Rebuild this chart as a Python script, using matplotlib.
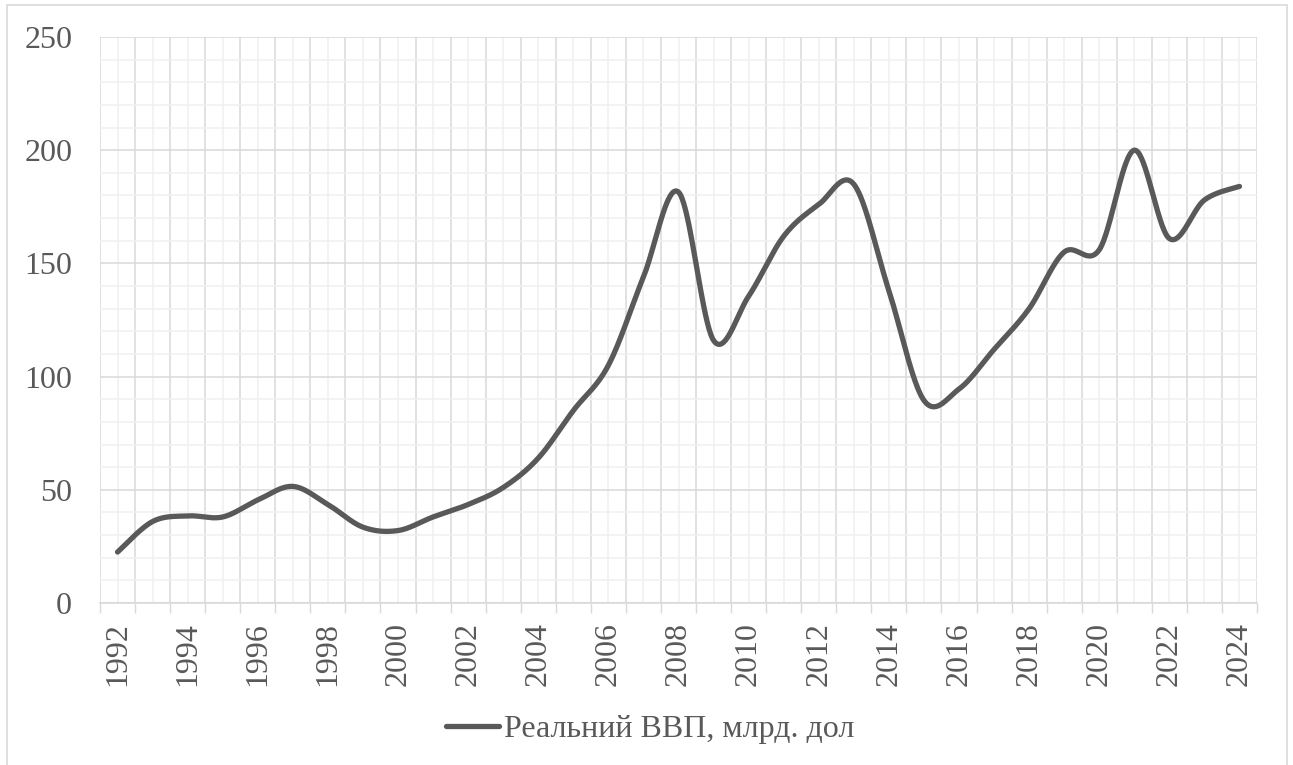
import numpy as np
import matplotlib.pyplot as plt
from matplotlib.patches import Rectangle
from matplotlib.ticker import MultipleLocator, FixedLocator

# --- Data: real GDP, bn USD ---
years = list(range(1992, 2025))
gdp = [22.5, 36, 38.5, 38, 45.5, 51.5, 43.5, 33.5, 32, 38,
       43.5, 51, 64, 85, 105, 144, 181.5, 116, 135.5, 162,
       176, 185, 138, 89.5, 94.5, 112, 130, 155, 156, 200,
       161, 178, 184]
series_label = "Реальний ВВП, млрд. дол"

# --- Style ---
W, H = 1293, 765
LINE_COLOR = '#595959'
TEXT_COLOR = '#595959'
MAJOR_GRID = '#D9D9D9'
MINOR_GRID = '#F0F0F0'
FONT = 'Liberation Serif'
FS = 23

plt.rcParams['font.family'] = [FONT, 'DejaVu Serif']


def smooth_curve(x, y, sx, sy, n=40):
    """Bezier smoothing through every point (spreadsheet-style), done in pixel space."""
    px = np.asarray(x, float) * sx
    py = np.asarray(y, float) * sy
    pts = np.column_stack([px, py])
    pts_ext = np.vstack([pts[0], pts, pts[-1]])
    out = []
    t = np.linspace(0, 1, n)[:, None]
    for i in range(len(pts) - 1):
        p0, p1, p2, p3 = pts_ext[i], pts_ext[i + 1], pts_ext[i + 2], pts_ext[i + 3]
        c1 = p1 + (p2 - p0) / 6
        c2 = p2 - (p3 - p1) / 6
        seg = ((1 - t) ** 3) * p1 + 3 * ((1 - t) ** 2) * t * c1 + 3 * (1 - t) * t ** 2 * c2 + t ** 3 * p2
        out.append(seg if i == 0 else seg[1:])
    out = np.vstack(out)
    return out[:, 0] / sx, out[:, 1] / sy


fig = plt.figure(figsize=(W / 100, H / 100), dpi=100)

# chart border
fig.patches.append(Rectangle((7 / W, -0.01), (1287 - 7) / W, 1 - 5 / H + 0.01,
                             transform=fig.transFigure, fill=False,
                             edgecolor=MAJOR_GRID, linewidth=1.2))

left, right, top, bottom = 100, 1257, 37, 603
ax = fig.add_axes([left / W, (H - bottom) / H, (right - left) / W, (bottom - top) / H])

n = len(years)
idx = np.arange(n)
px_per_cat = (right - left) / n
px_per_unit = (bottom - top) / 250

xs, ys = smooth_curve(idx, gdp, px_per_cat, px_per_unit)
ax.plot(xs, ys, color=LINE_COLOR, linewidth=3.8, solid_capstyle='round', zorder=3)

ax.set_xlim(-0.5, n - 0.5)
ax.set_ylim(0, 250)

# x: boundaries get major ticks/grid, category centres get labels and minor grid
ax.xaxis.set_major_locator(FixedLocator(np.arange(-0.5, n, 1.0)))
ax.set_xticklabels([])
ax.set_xticks(idx, labels=[str(y) if (y - years[0]) % 2 == 0 else '' for y in years], minor=True)
ax.tick_params(axis='x', which='major', length=7, width=1, color=MAJOR_GRID, direction='out')
ax.tick_params(axis='x', which='minor', length=0, pad=14, labelsize=FS,
               labelcolor=TEXT_COLOR, labelrotation=90)

ax.yaxis.set_major_locator(MultipleLocator(50))
ax.yaxis.set_minor_locator(MultipleLocator(10))
ax.tick_params(axis='y', which='both', length=0)
ax.tick_params(axis='y', which='major', pad=20, labelsize=FS, labelcolor=TEXT_COLOR)

ax.grid(which='major', color=MAJOR_GRID, linewidth=1.1)
ax.grid(which='minor', color=MINOR_GRID, linewidth=1.1)
ax.set_axisbelow(True)

for side in ['top', 'left', 'right']:
    ax.spines[side].set_visible(False)
ax.spines['bottom'].set_color(MAJOR_GRID)
ax.spines['bottom'].set_linewidth(1.2)

# legend below the axis labels
handle = plt.Line2D([], [], color=LINE_COLOR, linewidth=3.8, solid_capstyle='round')
fig.legend([handle], [series_label], loc='center', bbox_to_anchor=(650 / W, 1 - 729 / H),
           frameon=False, fontsize=FS, labelcolor=TEXT_COLOR,
           handlelength=1.65, handletextpad=0.15)

fig.savefig('out.png', dpi=100)
